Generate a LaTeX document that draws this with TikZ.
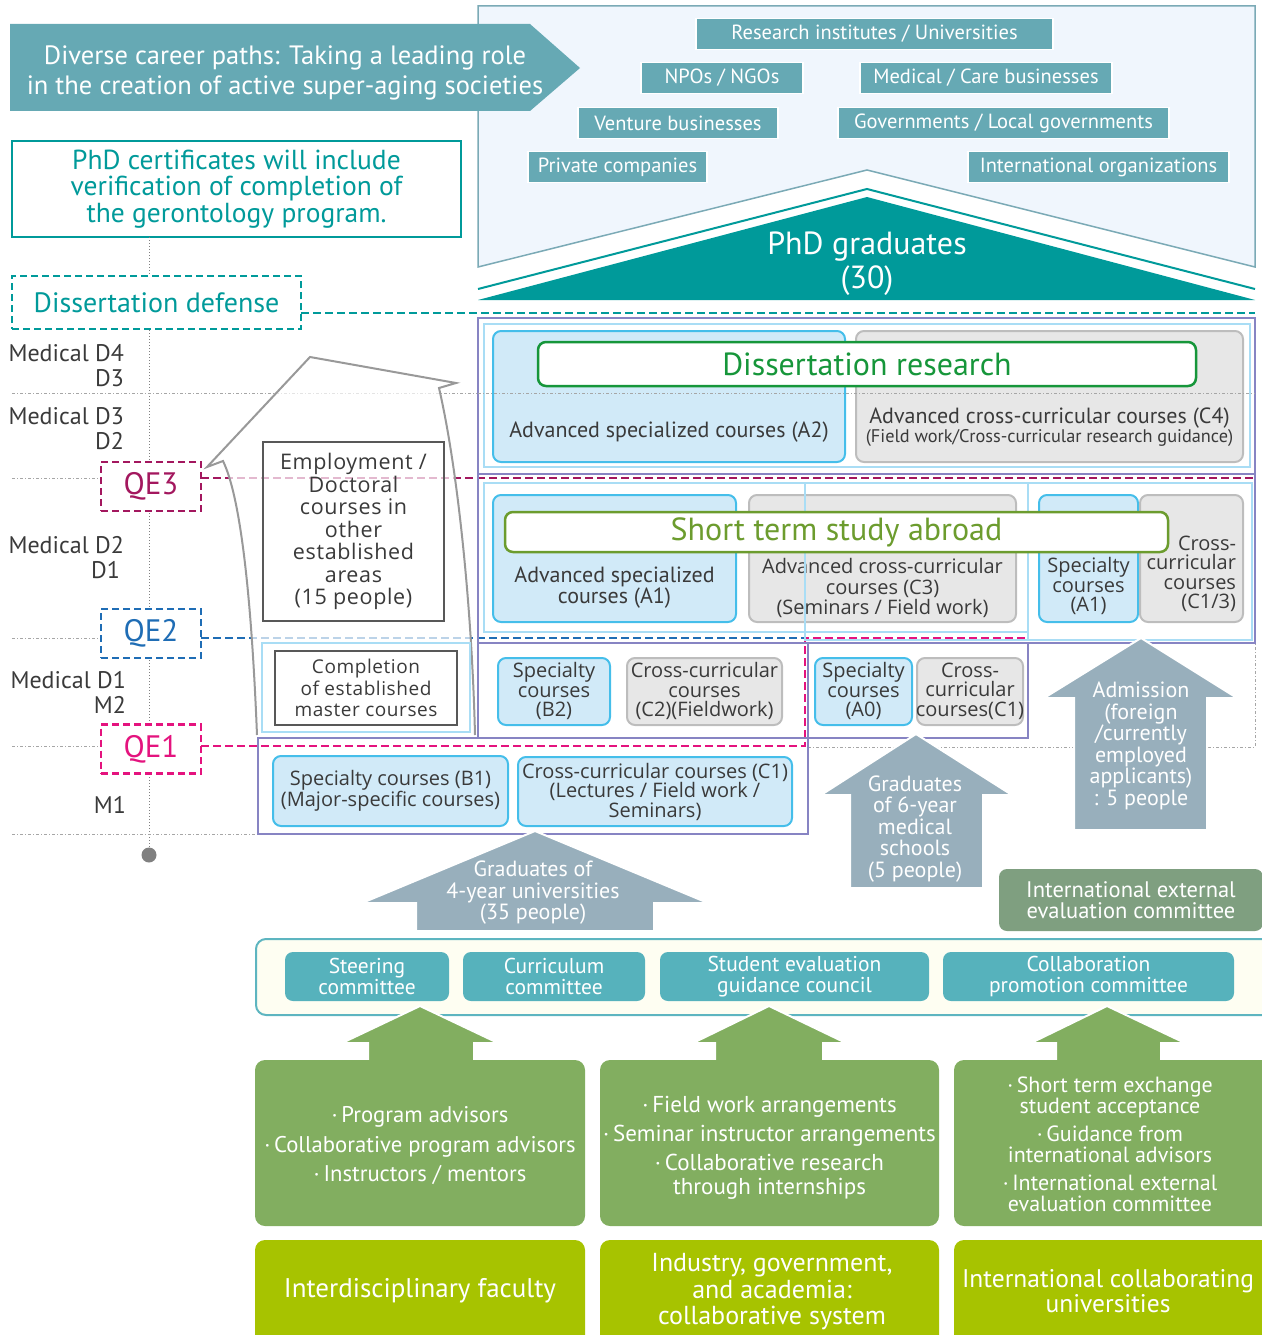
\documentclass[tikz,border=0pt]{standalone}
\usepackage{fontspec}
\setmainfont{PT Sans}
\newfontfamily\meiryo{Open Sans}
\newfontfamily\spaced[LetterSpace=3]{Open Sans}
\usetikzlibrary{positioning}

\definecolor{bannerteal}{HTML}{66A9B4}
\definecolor{careerbg}{HTML}{F0F6FD}
\definecolor{careerline}{HTML}{7BAAB6}
\definecolor{phdteal}{HTML}{009A9A}
\definecolor{qethree}{HTML}{A3175E}
\definecolor{qetwo}{HTML}{1F6DB5}
\definecolor{qeone}{HTML}{E4137E}
\definecolor{blockpurple}{HTML}{8784C3}
\definecolor{lightline}{HTML}{A9DDF5}
\definecolor{cyanline}{HTML}{45BEEA}
\definecolor{cyanfill}{HTML}{D1EAF8}
\definecolor{grayfill}{HTML}{E7E7E7}
\definecolor{grayline}{HTML}{BDBDBD}
\definecolor{resgreen}{HTML}{16963A}
\definecolor{abroadgreen}{HTML}{6C9C2E}
\definecolor{slate}{HTML}{98AFBC}
\definecolor{evalgreen}{HTML}{7F9F80}
\definecolor{bandline}{HTML}{5DB5C0}
\definecolor{bandfill}{HTML}{FEFEF2}
\definecolor{committee}{HTML}{56B2BC}
\definecolor{leafgreen}{HTML}{82AE60}
\definecolor{lime}{HTML}{A7C300}
\definecolor{ink}{HTML}{3A3A3A}

\newcommand{\fs}[2]{\fontsize{#1}{#2}\selectfont}

\begin{document}
\begin{tikzpicture}[x=1pt, y=-1pt,
	every node/.style={inner sep=0pt, outer sep=0pt, align=center},
	career/.style={fill=bannerteal, draw=white, line width=1.5pt, text=white, minimum height=31, font=\fs{20.5}{22}},
	qebox/.style={draw=#1, text=#1, line width=2.5pt, dash pattern=on 7pt off 4pt, minimum width=100, minimum height=49, font=\fs{31}{32}},
	qeline/.style={draw=#1, line width=2.5pt, dash pattern=on 8pt off 4pt},
	guide/.style={draw=gray!70, line width=0.8pt, dash pattern=on 3pt off 2pt on 1pt off 2pt},
	year/.style={anchor=east, text=ink, font=\fs{24}{25}},
	purp/.style={draw=blockpurple, line width=2pt},
	lblue/.style={draw=lightline, line width=1.5pt},
	cybox/.style={draw=cyanline, fill=cyanfill, line width=2pt, rounded corners=8pt},
	grbox/.style={draw=grayline, fill=grayfill, line width=2pt, rounded corners=8pt},
	coursetxt/.style={text=ink, font=\meiryo\fs{20}{19.5}},
	plaintxt/.style={text=ink, font=\fs{22}{21}},
	slatearrow/.style={fill=slate, draw=white, line width=2pt},
	whitetxt/.style={text=white, font=\fs{22}{21.5}},
	leafarrow/.style={fill=leafgreen, draw=white, line width=2pt},
	committeebox/.style={fill=committee, text=white, rounded corners=8pt, minimum height=49, font=\fs{21.5}{20.5}}]

\useasboundingbox (0,0) rectangle (1261,1335);

\filldraw[fill=careerbg, draw=careerline, line width=1.5pt] (478,6) -- (1255,6) -- (1255,267) -- (867,170) -- (478,267) -- cycle;
\node[career, minimum width=357] (research) at (874.5,34) {Research institutes / Universities};
\node[career, minimum width=162] (npo) at (722,78) {NPOs / NGOs};
\node[career, minimum width=252] (medical) at (986,78) {Medical / Care businesses};
\node[career, minimum width=200] (venture) at (678,123) {Venture businesses};
\node[career, minimum width=331] (govern) at (1003.5,123) {Governments / Local governments};
\node[career, minimum width=179] (private) at (617.5,167) {Private companies};
\node[career, minimum width=261] (intl) at (1098.5,167) {International organizations};

\fill[bannerteal] (10,24) -- (530,24) -- (580,68) -- (530,111) -- (10,111) -- cycle;
\node[text=white, font=\fs{26.5}{30}] (paths) at (285,73) {Diverse career paths: Taking a leading role\\in the creation of active super-aging societies};

\draw[phdteal, line width=2pt] (478,289) -- (867,189) -- (1255,289);
\fill[phdteal] (478,300) -- (867,197) -- (1255,300) -- cycle;
\node[text=white, font=\fs{32}{34}] (phd) at (867,264) {PhD graduates\\(30)};

\node[draw=phdteal, line width=2.5pt, fill=white, text=phdteal, minimum width=449, minimum height=96, font=\fs{27.5}{26.5}] (certificate) at (236.5,189) {PhD certificates will include\\verification of completion of\\the gerontology program.};

\draw[gray, line width=1pt, dotted] (certificate.south -| 149,0) -- (149,855);
\fill[gray] (149,855) circle (7.5);

\draw[guide] (12,393) -- (478,393);
\draw[guide] (12,478) -- (101,478);
\draw[guide] (12,638) -- (101,638);
\draw[guide] (12,746) -- (101,746);
\draw[guide] (12,834) -- (258,834);
\draw[guide] (808,747) -- (1255,747) -- (1255,643);

\node[draw=phdteal, text=phdteal, fill=white, line width=2.5pt, dash pattern=on 7pt off 4pt, minimum width=289, minimum height=53, font=\fs{28}{28}] (defense) at (156.5,302.5) {Dissertation defense};
\draw[qeline=phdteal] (defense.east |- 0,313) -- (1255,313);

\node[year] (d4) at (124,353) {Medical D4};
\node[year] (d3) at (124,378) {D3};
\node[year] (d3m) at (124,416) {Medical D3};
\node[year] (d2) at (124,441) {D2};
\node[year] (d2m) at (124,545) {Medical D2};
\node[year] (d1) at (120,570) {D1};
\node[year] (d1m) at (126,680) {Medical D1};
\node[year] (m2) at (126,705) {M2};
\node[year] (m1) at (126,805) {M1};

\node[qebox=qethree, fill=white] (QE3) at (151,486.5) {QE3};
\node[qebox=qetwo, fill=white] (QE2) at (151,633.5) {QE2};
\node[qebox=qeone, fill=white] (QE1) at (151,749) {QE1};
\draw[qeline=qethree] (QE3.east |- 0,478) -- (1255,478);
\draw[qeline=qetwo] (QE2.east |- 0,638) -- (805,638);
\draw[qeline=qeone] (QE1.east |- 0,746) -- (805,746) -- (805,638) -- (1025,638);

\filldraw[draw=gray!80, line width=2pt, fill=white, fill opacity=0.7] (257,735) .. controls (252,610) and (242,500) .. (223,461) -- (207,467) -- (310,357) -- (456,383) -- (439,388) .. controls (458,470) and (472,610) .. (475,735);

\node[draw=ink!85, line width=2pt, minimum width=181, minimum height=179] (employ) at (353.5,531.5) {};
\node[text=ink, font=\spaced\fs{21.5}{22.5}] (employtxt) at (353.5,531.5) {Employment /\\Doctoral\\courses in\\other\\established\\areas\\(15 people)};

\draw[lblue] (262,643) rectangle (470,732);
\node[draw=ink!85, line width=2pt, fill=white, minimum width=182, minimum height=74] (completion) at (366,688) {};
\node[text=ink, font=\spaced\fs{19}{21.5}] (completiontxt) at (366,688) {Completion\\of established\\master courses};

\draw[purp] (478,318) rectangle (1255,474);
\draw[lblue] (484,324) rectangle (1250,467);
\draw[purp] (478,474) rectangle (1255,643);
\draw[purp] (478,643) rectangle (808,738);
\draw[purp] (808,643) rectangle (1028,738);
\draw[purp] (258,738) rectangle (808,834);

\node[cybox, minimum width=352, minimum height=131] (A2) at (669,396.5) {};
\node[plaintxt] (A2txt) at (669,432) {Advanced specialized courses (A2)};
\node[grbox, minimum width=387, minimum height=131] (C4) at (1049.5,396.5) {};
\node[plaintxt] (C4txt) at (1049.5,418) {Advanced cross-curricular courses (C4)};
\node[text=ink, font=\fs{18.3}{18}] (C4sub) at (1049.5,438) {(Field work/Cross-curricular research guidance)};
\node[draw=resgreen, line width=2.5pt, fill=white, rounded corners=8pt, minimum width=658, minimum height=44, text=resgreen, font=\fs{32}{30}] (research) at (867,364) {Dissertation research};
\draw[guide] (478,393) -- (1255,393);

\node[cybox, minimum width=243, minimum height=127] (A1) at (614.5,558.5) {};
\node[plaintxt] (A1txt) at (614.5,588) {Advanced specialized\\courses (A1)};
\node[grbox, minimum width=267, minimum height=127] (C3) at (882.5,558.5) {};
\node[coursetxt, font=\meiryo\fs{20}{20.5}] (C3txt) at (882.5,588) {Advanced cross-curricular\\courses (C3)\\(Seminars / Field work)};
\node[cybox, minimum width=99, minimum height=127] (A1s) at (1088.5,558.5) {};
\node[coursetxt] (A1stxt) at (1088.5,586) {Specialty\\courses\\(A1)};
\node[grbox, minimum width=103, minimum height=127] (C13) at (1191.5,558.5) {};
\node[coursetxt, align=right, anchor=east] (C13txt) at (1236,574) {Cross-\\curricular\\courses\\(C1/3)};
\draw[lblue] (484,483) rectangle (1028,632);
\draw[lblue] (805,483) rectangle (1028,640);
\draw[lblue] (1028,483) rectangle (1252,640);
\node[draw=abroadgreen, line width=2.5pt, fill=white, rounded corners=8pt, minimum width=663, minimum height=40, text=abroadgreen, font=\fs{32}{30}] (abroad) at (836.5,532) {Short term study abroad};

\node[cybox, minimum width=112, minimum height=67] (B2) at (554,691.5) {};
\node[coursetxt] (B2txt) at (554,691) {Specialty\\courses\\(B2)};
\node[grbox, minimum width=155, minimum height=67] (C2) at (704.5,691.5) {};
\node[coursetxt] (C2txt) at (704.5,691) {Cross-curricular\\courses\\(C2)(Fieldwork)};
\node[cybox, minimum width=97, minimum height=67] (A0) at (863.5,691.5) {};
\node[coursetxt] (A0txt) at (863.5,691) {Specialty\\courses\\(A0)};
\node[grbox, minimum width=106, minimum height=67] (C1) at (970,691.5) {};
\node[coursetxt] (C1txt) at (970,691) {Cross-\\curricular\\courses(C1)};

\node[cybox, minimum width=235, minimum height=70] (B1) at (390.5,791) {};
\node[coursetxt] (B1txt) at (390.5,791) {Specialty courses (B1)\\(Major-specific courses)};
\node[cybox, minimum width=274, minimum height=69] (C1m) at (655,791.5) {};
\node[coursetxt] (C1mtxt) at (655,791.5) {Cross-curricular courses (C1)\\(Lectures / Field work /\\Seminars)};

\filldraw[slatearrow] (535,831) -- (708,903) -- (654,903) -- (654,931) -- (416,931) -- (416,903) -- (362,903) -- cycle;
\node[whitetxt] (fouryear) at (533,893) {Graduates of\\4-year universities\\(35 people)};
\filldraw[slatearrow] (916,734) -- (1012,795) -- (983,795) -- (983,888) -- (850,888) -- (850,795) -- (821,795) -- cycle;
\node[whitetxt] (sixyear) at (915,829) {Graduates\\of 6-year\\medical\\schools\\(5 people)};
\filldraw[slatearrow] (1141,638) -- (1237,698) -- (1207,698) -- (1207,830) -- (1074,830) -- (1074,698) -- (1044,698) -- cycle;
\node[whitetxt] (admission) at (1141,746) {Admission\\(foreign\\/currently\\employed\\applicants)\\: 5 people};

\node[fill=evalgreen, rounded corners=8pt, minimum width=264, minimum height=62, text=white, font=\fs{22.5}{20.5}] (evaluation) at (1131,900) {International external\\evaluation committee};

\filldraw[fill=bandfill, draw=bandline, line width=2pt, rounded corners=10pt] (256,939) rectangle (1275,1015);
\node[committeebox, minimum width=164] (steering) at (367,976.5) {Steering\\committee};
\node[committeebox, minimum width=182] (curriculum) at (554,976.5) {Curriculum\\committee};
\node[committeebox, minimum width=269] (guidance) at (794.5,976.5) {Student evaluation\\guidance council};
\node[committeebox, minimum width=291] (promotion) at (1088.5,976.5) {Collaboration\\promotion committee};

\filldraw[leafarrow] (420,1006) -- (498,1043) -- (474,1043) -- (474,1064) -- (368,1064) -- (368,1043) -- (342,1043) -- cycle;
\filldraw[leafarrow] (769,1006) -- (846,1043) -- (823,1043) -- (823,1064) -- (715,1064) -- (715,1043) -- (693,1043) -- cycle;
\filldraw[leafarrow] (1107,1006) -- (1185,1043) -- (1161,1043) -- (1161,1064) -- (1056,1064) -- (1056,1043) -- (1031,1043) -- cycle;

\node[fill=leafgreen, rounded corners=10pt, minimum width=330, minimum height=166] (faculty) at (420,1143) {};
\node[text=white, font=\fs{22.7}{29.5}] (facultytxt) at (420,1146) {·\,Program advisors\\·\,Collaborative program advisors\\·\,Instructors / mentors};
\node[fill=leafgreen, rounded corners=10pt, minimum width=339, minimum height=166] (industry) at (769.5,1143) {};
\node[text=white, font=\fs{23}{24}] (industrytxt) at (769.5,1148) {·\,Field work arrangements\\[5pt]·\,Seminar instructor arrangements\\[5pt]·\,Collaborative research\\through internships};
\node[fill=leafgreen, rounded corners=10pt, minimum width=330, minimum height=166] (exchange) at (1119,1143) {};
\node[text=white, font=\fs{22}{21}] (exchangetxt) at (1110,1144) {·\,Short term exchange\\student acceptance\\[7pt]·\,Guidance from\\international advisors\\[7pt]·\,International external\\evaluation committee};

\node[fill=lime, rounded corners=10pt, minimum width=330, minimum height=120] (interdisc) at (420,1300) {};
\node[text=white, font=\fs{27}{26}] (interdisctxt) at (420,1291) {Interdisciplinary faculty};
\node[fill=lime, rounded corners=10pt, minimum width=339, minimum height=120] (system) at (769.5,1300) {};
\node[text=white, font=\fs{26}{26.5}] (systemtxt) at (772,1292) {Industry, government,\\and academia:\\collaborative system};
\node[fill=lime, rounded corners=10pt, minimum width=330, minimum height=120] (partners) at (1119,1300) {};
\node[text=white, font=\fs{25.5}{25}] (partnerstxt) at (1108,1291.5) {International collaborating\\universities};
\end{tikzpicture}
\end{document}
